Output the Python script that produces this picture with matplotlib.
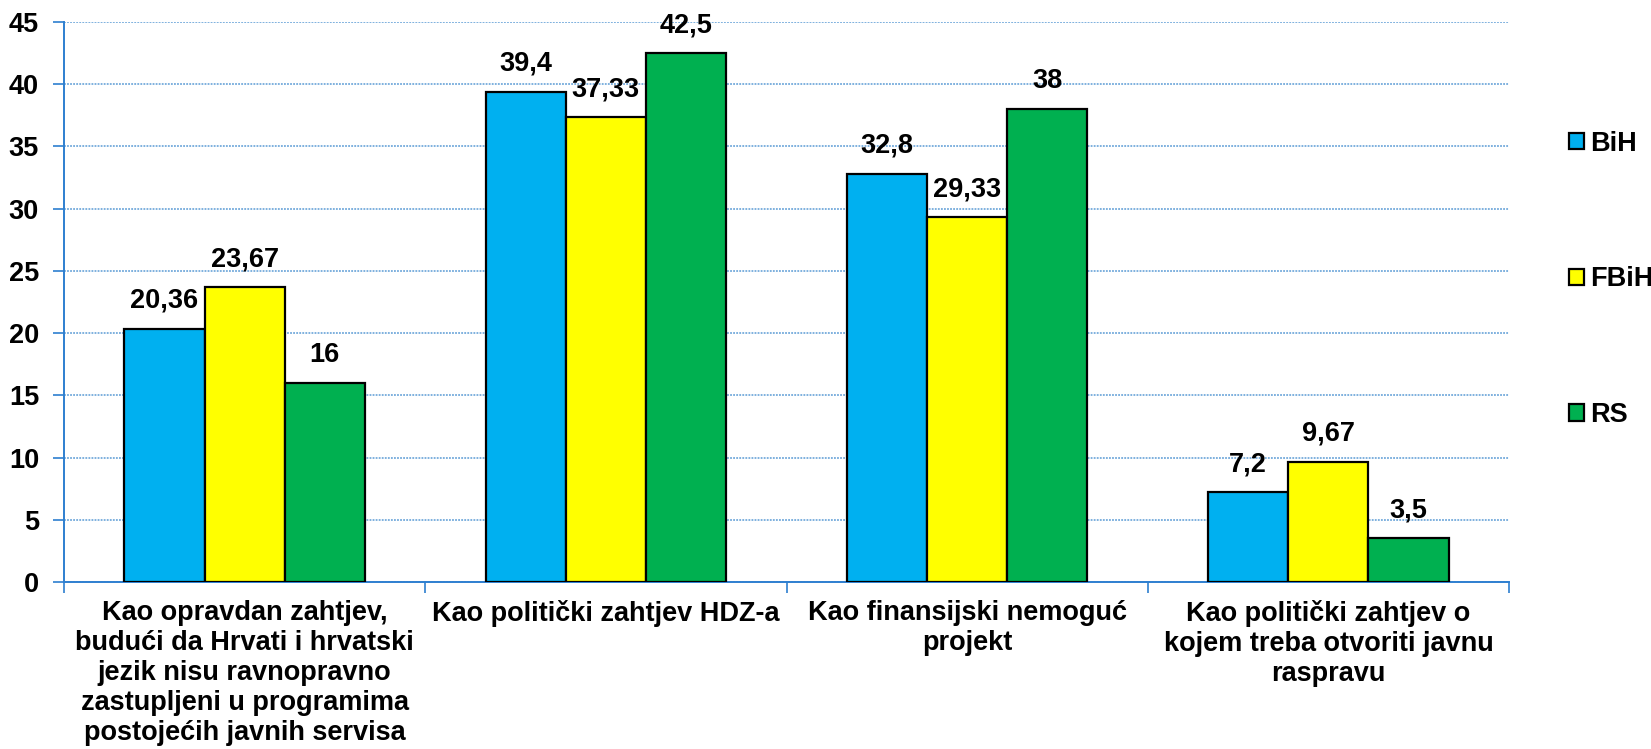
import numpy as np
import matplotlib
matplotlib.use("Agg")
import matplotlib.pyplot as plt
from matplotlib.patches import Patch

plt.rcParams['font.family'] = ['Liberation Sans', 'DejaVu Sans']
plt.rcParams['font.weight'] = 'bold'

categories = [
    "Kao opravdan zahtjev,\nbudući da Hrvati i hrvatski\njezik nisu ravnopravno\nzastupljeni u programima\npostojećih javnih servisa",
    "Kao politički zahtjev HDZ-a",
    "Kao finansijski nemoguć\nprojekt",
    "Kao politički zahtjev o\nkojem treba otvoriti javnu\nraspravu",
]
series = ["BiH", "FBiH", "RS"]
bih = [20.36, 39.4, 32.8, 7.2]
fbih = [23.67, 37.33, 29.33, 9.67]
rs = [16, 42.5, 38, 3.5]
colors = ["#00B0F0", "#FFFF00", "#00B050"]

AX = "#2E7FD0"
FS = 19.5
fig = plt.figure(figsize=(16.51, 7.49), dpi=100)
ax = fig.add_axes([0.0388, 0.223, 0.8752, 0.7476])

x = np.arange(len(categories))
w = 0.222
for i, (vals, c) in enumerate(zip([bih, fbih, rs], colors)):
    pos = x + (i - 1) * w
    ax.bar(pos, vals, width=w, color=c, edgecolor="black", linewidth=1.6, zorder=3)
    for px, v in zip(pos, vals):
        lab = f"{v:g}".replace(".", ",")
        ax.text(px, v + 1.2, lab, ha="center", va="bottom", fontsize=FS, fontweight="bold")

ax.set_xlim(-0.5, len(categories) - 0.5)
ax.set_ylim(0, 45)
ax.set_yticks(range(0, 46, 5))
ax.set_xticks(np.arange(-0.5, len(categories), 1.0))
ax.set_xticklabels([])
ax.set_xticks(x, minor=True)
ax.set_xticklabels(categories, minor=True, fontsize=FS, fontweight="bold", linespacing=1.2)
ax.tick_params(axis="x", which="minor", length=0, pad=13)
ax.tick_params(axis="x", which="major", length=8, color=AX, width=1.2, direction="out")
ax.tick_params(axis="y", length=8, color=AX, width=1.2, labelsize=FS, pad=10)
for t in ax.get_yticklabels():
    t.set_fontweight("bold")

ax.yaxis.grid(True, color="#5B9BD5", linestyle=(0, (1.2, 0.8)), linewidth=1.1, zorder=0)
for s in ["top", "right"]:
    ax.spines[s].set_visible(False)
for s in ["left", "bottom"]:
    ax.spines[s].set_color(AX)
    ax.spines[s].set_linewidth(1.4)

handles = [Patch(facecolor=c, edgecolor="black", linewidth=1.6) for c in colors]
leg = fig.legend(handles, series, loc="upper left", bbox_to_anchor=(0.944, 0.84),
                 frameon=False, fontsize=FS, labelspacing=4.05, handlelength=0.55,
                 handleheight=0.55, handletextpad=0.2, borderaxespad=0)
for t in leg.get_texts():
    t.set_fontweight("bold")

fig.savefig("out.png", dpi=100)
